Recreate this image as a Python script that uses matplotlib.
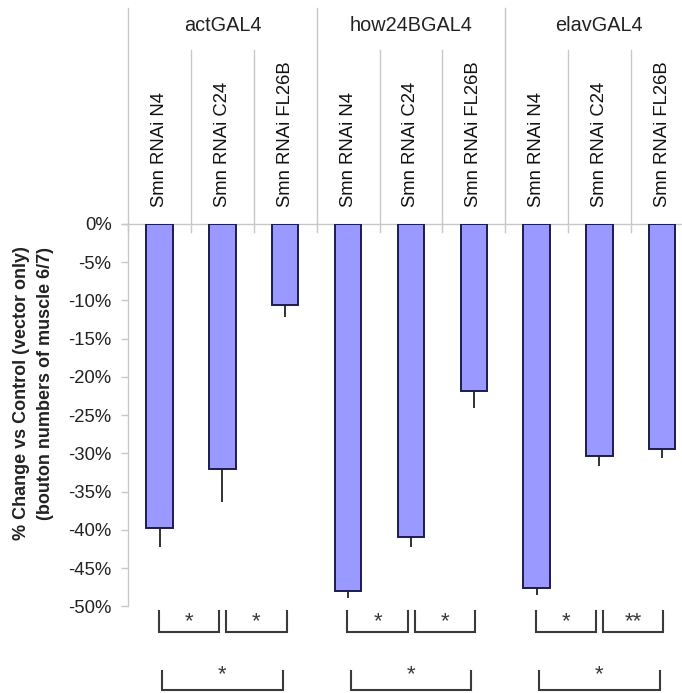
import matplotlib
matplotlib.use("Agg")
import matplotlib.pyplot as plt
import numpy as np

plt.rcParams['font.family'] = ['Liberation Sans', 'DejaVu Sans']

# Driver lines and the RNAi constructs tested under each driver
groups = ["actGAL4", "how24BGAL4", "elavGAL4"]
constructs = ["Smn RNAi N4", "Smn RNAi C24", "Smn RNAi FL26B"]

# % change in bouton number vs vector-only control (muscle 6/7)
change = [-39.8, -32.1, -10.6, -48.0, -41.0, -21.8, -47.6, -30.4, -29.4]
sem = [2.5, 4.2, 1.5, 0.9, 1.3, 2.3, 0.9, 1.3, 1.2]

# Significance marks: neighbouring constructs within each driver,
# and first vs last construct
pair_labels = [["*", "*"], ["*", "*"], ["*", "**"]]
outer_labels = ["*", "*", "*"]

yticks = [0, -5, -10, -15, -20, -25, -30, -35, -40, -45, -50]

n_grp = len(groups)
n_con = len(constructs)
x = np.arange(n_grp * n_con)

fig = plt.figure(figsize=(6.82, 6.93), dpi=100)
ax = fig.add_axes([0.1881, 0.1251, 0.8288, 0.5517])

grey = "#c8c8c8"
ink = "#3a3a3a"

ax.bar(x, change, width=0.42, color="#9999ff", edgecolor="#1c1c50",
       linewidth=1.4, zorder=3)
ax.errorbar(x, change, yerr=[sem, np.zeros(len(sem))], fmt="none",
            ecolor="#222222", elinewidth=1.3, capsize=0, zorder=2)

ax.set_xlim(-0.5, n_grp * n_con - 0.5)
ax.set_ylim(-50, 0)
ax.set_yticks(yticks)
ax.set_yticklabels([f"{t}%" for t in yticks], fontsize=13.3, color="#222222")
ax.tick_params(axis="y", length=5, width=1.0, color=grey, pad=7)
ax.set_xticks([])
for s in ["top", "right", "bottom"]:
    ax.spines[s].set_visible(False)
ax.spines["left"].set_color(grey)
ax.spines["left"].set_linewidth(1.0)
ax.axhline(0, color=grey, lw=1.0, zorder=1, clip_on=False)
ax.plot([-0.5 - 0.1, -0.5], [0, 0], color=grey, lw=1.0, clip_on=False)

# Category header: group separators, sub-separators, labels
for g in range(n_grp + 1):
    xs = g * n_con - 0.5
    ax.plot([xs, xs], [-1.0, 28.2], color=grey, lw=1.0, clip_on=False)
for g in range(n_grp):
    for k in range(1, n_con):
        xs = g * n_con + k - 0.5
        ax.plot([xs, xs], [-1.0, 22.7], color=grey, lw=1.0, clip_on=False)
    ax.text(g * n_con + 1, 25.9, groups[g], ha="center", va="center",
            fontsize=14.3, color="#222222", clip_on=False)
    for k in range(n_con):
        ax.text(g * n_con + k, 2.2, constructs[k], rotation=90,
                ha="center", va="bottom", fontsize=13.3, color="#111111",
                clip_on=False)

# Significance brackets below the plot
def bracket(x0, x1, ytop, ybot, label, ylab):
    ax.plot([x0, x0, x1, x1], [ytop, ybot, ybot, ytop], color=ink, lw=1.5,
            clip_on=False, solid_joinstyle="miter")
    ax.text((x0 + x1) / 2, ylab, label, ha="center", va="center",
            fontsize=16, color=ink, clip_on=False)

for g in range(n_grp):
    base = g * n_con
    lab = pair_labels[g]
    bracket(base - 0.01, base + 0.95, -50.6, -53.4, lab[0], -52.0)
    bracket(base + 1.06, base + 2.02, -50.6, -53.4, lab[1], -52.0)
    bracket(base + 0.04, base + 1.96, -58.4, -61.0, outer_labels[g], -58.9)

fig.text(0.032, 0.433, "% Change vs Control (vector only)", rotation=90,
         ha="center", va="center", fontsize=13, fontweight="bold",
         color="#222222")
fig.text(0.066, 0.446, "(bouton numbers of muscle 6/7)", rotation=90,
         ha="center", va="center", fontsize=13, fontweight="bold",
         color="#222222")

fig.savefig("out.png", dpi=100)
